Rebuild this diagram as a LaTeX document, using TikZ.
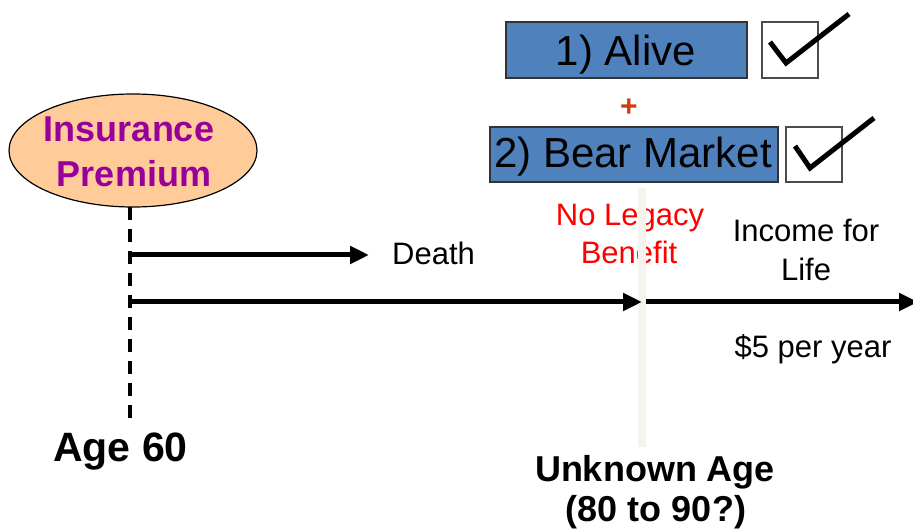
\documentclass[tikz,border=0pt]{standalone}
\usepackage{fontspec}
\setmainfont{Liberation Sans}
\usetikzlibrary{arrows.meta,shapes.geometric}

\definecolor{boxblue}{HTML}{4F81BD}
\definecolor{peach}{HTML}{FFCC99}
\definecolor{premiumpurple}{HTML}{990099}
\definecolor{plusred}{HTML}{D03A0C}
\definecolor{haze}{HTML}{F4F3EE}

\newcommand{\fs}[1]{\fontsize{#1bp}{#1bp}\selectfont}

\tikzset{
  lbl/.style={inner sep=0pt, anchor=base, font=\fs{31}},
  boldlbl/.style={inner sep=0pt, anchor=base, font=\fs{#1}\bfseries},
  condbox/.style={draw=black!80, line width=1.2bp, fill=boxblue},
  tickbox/.style={draw=black!70, line width=1.2bp, fill=white},
  tick/.style={line width=5bp, miter limit=10},
  timeline/.style={line width=5bp, -{Triangle[length=19bp,width=17bp]}},
  ageline/.style={line width=4bp, dash pattern=on 13bp off 9bp},
}

\begin{document}
\begin{tikzpicture}[x=1bp,y=-1bp]
\useasboundingbox (0,0) rectangle (913,529);
\clip (0,0) rectangle (913,529);

% conditions for the guaranteed income
\draw[condbox] (506,22) rectangle (747,78);
\node[lbl, font=\fs{42}] (alive) at (626,66) {1) Alive};
\draw[tickbox] (762,22) rectangle (818,78);
\draw[tick] (770,42) -- (786,63) -- (849,14);

\node[boldlbl=30, text=plusred] (plus) at (629,117) {+};

\draw[condbox] (490,127) rectangle (778,182);
\node[lbl, font=\fs{42}] (bear) at (633,168) {2) Bear Market};
\draw[tickbox] (786,127) rectangle (842,182);
\draw[tick] (795,146) -- (810,168) -- (874,118);

% premium paid at age 60
\node[ellipse, draw=black, line width=1.2bp, fill=peach,
      minimum width=248bp, minimum height=113bp, inner sep=0pt] (prem) at (133,150.5) {};
\node[boldlbl=36, text=premiumpurple] (ins) at (129,142) {Insurance};
\node[boldlbl=36, text=premiumpurple] (pr) at (134,187) {Premium};

% labels along the time line
\node[lbl, anchor=base west] (death) at (392,265) {Death};
\node[lbl, text=red] (nolegacy) at (630,226) {No Legacy};
\node[lbl, text=red] (benefit) at (629,264) {Benefit};
\node[lbl] (income) at (806,242) {Income for};
\node[lbl] (life) at (806,281) {Life};
\node[lbl] (rate) at (813,358) {\$5 per year};

\node[boldlbl=41, anchor=base west] (age60) at (53,461) {Age 60};
\node[boldlbl=36] (unknown) at (655,481) {Unknown Age};
\node[boldlbl=36] (range) at (656,521) {(80 to 90?)};

% faint marker at the unknown age
\fill[haze] (638,188) rectangle (646,447);

% time lines
\coordinate (agetop) at (130,207);
\coordinate (agebot) at (130,423);
\coordinate (d0) at (130,255);
\coordinate (d1) at (369,255);
\coordinate (t0) at (130,302);
\coordinate (t1) at (642,302);
\coordinate (t2) at (646,302);
\coordinate (t3) at (918,302);

\draw[ageline] (agetop) -- (agebot);
\draw[timeline] (d0) -- (d1);
\draw[timeline] (t0) -- (t1);
\draw[timeline] (t2) -- (t3);
\end{tikzpicture}
\end{document}
